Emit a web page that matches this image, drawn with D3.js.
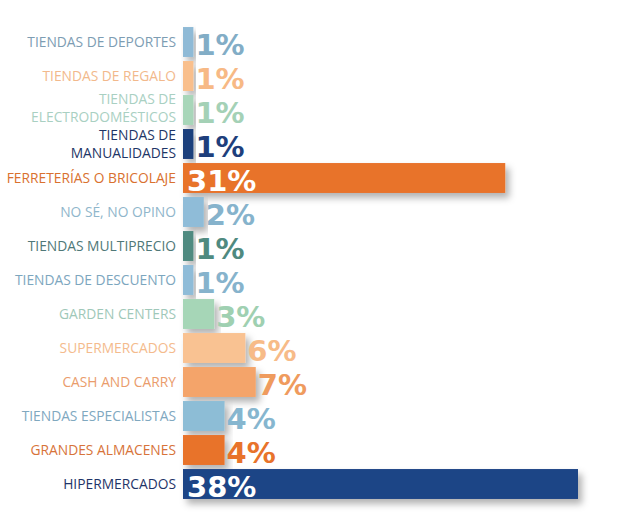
<!DOCTYPE html>
<html>
<head>
<meta charset="utf-8">
<script src="https://cdn.jsdelivr.net/npm/d3@7"></script>
<style>
  html, body { margin: 0; padding: 0; background: #ffffff; }
  svg { display: block; }
</style>
</head>
<body>
<svg id="chart" width="630" height="530"></svg>
<script>
const categories = [
  "TIENDAS DE DEPORTES",
  "TIENDAS DE REGALO",
  "TIENDAS DE|ELECTRODOMÉSTICOS",
  "TIENDAS DE|MANUALIDADES",
  "FERRETERÍAS O BRICOLAJE",
  "NO SÉ, NO OPINO",
  "TIENDAS MULTIPRECIO",
  "TIENDAS DE DESCUENTO",
  "GARDEN CENTERS",
  "SUPERMERCADOS",
  "CASH AND CARRY",
  "TIENDAS ESPECIALISTAS",
  "GRANDES ALMACENES",
  "HIPERMERCADOS"
];
const values = [1, 1, 1, 1, 31, 2, 1, 1, 3, 6, 7, 4, 4, 38];
const barColors = ["#8fbad6", "#f9bf8c", "#a8d6b9", "#1e3f7c", "#e8732b", "#8fbcd8", "#4f8a80", "#8fbcd8", "#a6d6b7", "#f9c292", "#f4a46a", "#8dbdd6", "#e8732b", "#1d4586"];
const valueColors = ["#82adc6", "#f7b985", "#a4d1b6", "#1e3f7c", "#ffffff", "#86b3cc", "#4f8a80", "#86b3cc", "#9fd0b1", "#f7bb88", "#ef9b5e", "#86b6cf", "#e8732b", "#ffffff"];
const labelColors = ["#7d9db3", "#f2b98c", "#a9d0c2", "#1e3566", "#d9712f", "#8fb6cb", "#4f7878", "#7ca6be", "#9fc8b9", "#f4bb8d", "#ea9c6c", "#80a8bf", "#d7733a", "#1f3468"];
const valueLabels = ["1%", "1%", "1%", "1%", "31%", "2%", "1%", "1%", "3%", "6%", "7%", "4%", "4%", "38%"];

const data = categories.map((c, i) => ({ cat: c, value: values[i], bar: barColors[i], val: valueColors[i], lab: labelColors[i], text: valueLabels[i] }));

const svg = d3.select("#chart");
const defs = svg.append("defs");
const f = defs.append("filter").attr("id", "shadow").attr("x", "-10%").attr("y", "-30%").attr("width", "130%").attr("height", "190%");
f.append("feDropShadow").attr("dx", 4).attr("dy", 5).attr("stdDeviation", 3.5).attr("flood-color", "#000").attr("flood-opacity", 0.3);

const x = d3.scaleLinear().domain([0, 38]).range([183, 578]);
const y = d3.scaleBand().domain(categories).range([25, 501]).paddingInner(0.12).paddingOuter(0.06);

const g = svg.append("g");

g.selectAll("rect.bar").data(data).enter().append("rect")
  .attr("class", "bar")
  .attr("x", x(0))
  .attr("y", d => y(d.cat))
  .attr("width", d => x(d.value) - x(0))
  .attr("height", y.bandwidth())
  .attr("fill", d => d.bar)
  .attr("filter", "url(#shadow)");

// category labels
const labels = g.selectAll("text.cat").data(data).enter().append("text")
  .attr("class", "cat")
  .attr("text-anchor", "end")
  .attr("font-family", "'Open Sans', sans-serif")
  .attr("font-size", "13.8px")
  .attr("fill", d => d.lab)
  .attr("transform", (d, i) => `translate(176, ${y(d.cat) + y.bandwidth() / 2 + (i === 2 ? -2 : 0)})`);

labels.each(function (d) {
  const lines = d.cat.split("|");
  const t = d3.select(this);
  const lh = 18;
  lines.forEach((ln, k) => {
    t.append("tspan")
      .attr("x", 0)
      .attr("y", (k - (lines.length - 1) / 2) * lh)
      .attr("dy", "0.35em")
      .text(ln);
  });
});

// value labels
g.selectAll("text.val").data(data).enter().append("text")
  .attr("class", "val")
  .attr("font-family", "'DejaVu Sans', sans-serif")
  .attr("font-weight", "bold")
  .attr("font-size", "29px")
  .attr("fill", d => d.val)
  .attr("x", d => d.value > 20 ? x(0) + 4 : x(d.value) + 2)
  .attr("y", d => y(d.cat) + y.bandwidth() / 2 + 3)
  .attr("dy", "0.35em")
  .text(d => d.text);
</script>
</body>
</html>
